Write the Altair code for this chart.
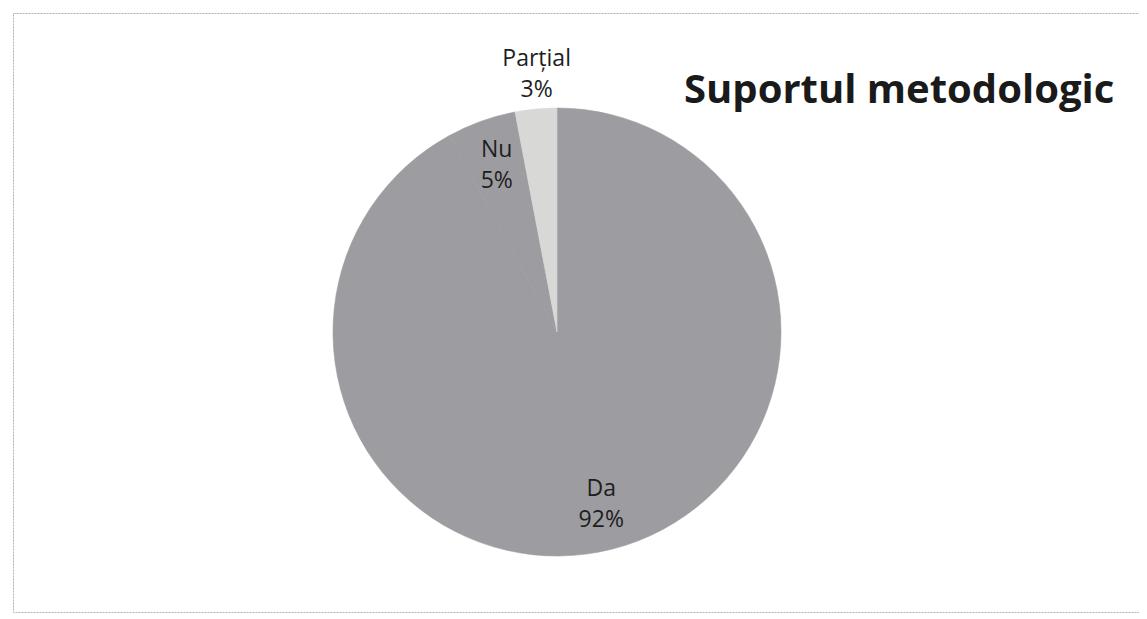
import altair as alt
import pandas as pd

categories = ["Da", "Nu", "Parțial"]
values = [92, 5, 3]
title_text = "Suportul metodologic"

df = pd.DataFrame({
    "cat": categories,
    "val": values,
    "idx": list(range(len(categories))),
})
df["label"] = [f"{c}\n{v}%" for c, v in zip(categories, values)]

colors = ["#9d9ca1", "#9d9ca1", "#d8d8d6"]

CX, CY, R = 544, 319, 224

base = alt.Chart(df).encode(
    theta=alt.Theta("val:Q", stack=True),
    order=alt.Order("idx:Q"),
)

cscale = alt.Scale(domain=categories, range=colors)

arcs = base.mark_arc(outerRadius=R, strokeWidth=0.6).encode(
    x=alt.value(CX), y=alt.value(CY),
    color=alt.Color("cat:N", scale=cscale, legend=None),
    stroke=alt.Stroke("cat:N", scale=cscale, legend=None),
)

txt = dict(font="Open Sans", fontSize=23, color="#1e1e1e", lineBreak="\n",
           lineHeight=31, baseline="middle", align="center", dy=-15)

inner = base.mark_text(radius=178, **txt).encode(
    x=alt.value(CX), y=alt.value(CY),
    text="label:N",
    opacity=alt.condition(alt.datum.cat == "Parțial", alt.value(0), alt.value(1)),
)

outer = base.mark_text(radius=259, dx=4, **txt).encode(
    x=alt.value(CX), y=alt.value(CY),
    text="label:N",
    opacity=alt.condition(alt.datum.cat == "Parțial", alt.value(1), alt.value(0)),
)

title = alt.Chart(pd.DataFrame({"t": [title_text]})).mark_text(
    font="Open Sans", fontSize=40, fontWeight="bold", color="#1a1a1a",
    align="left", baseline="alphabetic",
).encode(text="t:N", x=alt.value(671), y=alt.value(90))

chart = alt.layer(arcs, inner, outer, title).properties(
    width=1126, height=599,
    padding={"left": 5, "top": 5, "right": 0, "bottom": 5},
).configure_view(
    stroke="#b0b0b0", strokeWidth=1, strokeDash=[2, 1],
)

chart.save("out.html", embed_options={"renderer": "svg", "actions": False})
